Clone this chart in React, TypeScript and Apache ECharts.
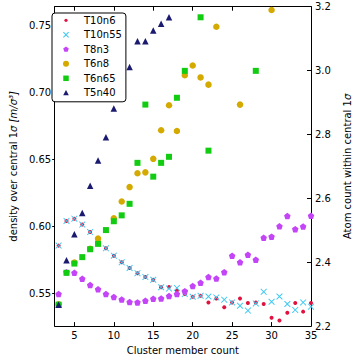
import React, { useEffect, useRef } from 'react';
import * as echarts from 'echarts';

const memberCounts = [3, 4, 5, 6, 7, 8, 9, 10, 11, 12, 13, 14, 15, 16, 17, 18, 19, 20, 21, 22, 23, 24, 25, 26, 27, 28, 29, 30, 31, 32, 33, 34, 35];
const t10n6 = [0.5858, 0.6042, 0.6059, 0.6015, 0.5959, 0.5895, 0.5838, 0.5783, 0.5733, 0.5691, 0.5652, 0.5623, 0.5603, 0.5547, 0.5549, 0.5522, 0.5496, 0.5476, 0.5483, 0.5434, 0.5463, 0.5397, 0.5434, 0.5463, 0.5429, 0.5434, 0.5422, 0.5319, 0.5299, 0.5356, 0.5429, 0.5365, 0.5429];
const t10n55 = [0.5858, 0.6042, 0.6059, 0.6015, 0.5959, 0.5895, 0.5838, 0.5783, 0.5733, 0.5691, 0.5652, 0.5623, 0.5603, 0.5547, 0.5537, 0.5542, 0.5496, 0.5476, 0.5483, 0.5478, 0.5471, 0.5454, 0.5434, 0.5409, 0.5373, 0.5426, 0.5513, 0.5439, 0.5478, 0.5422, 0.5378, 0.5434, 0.5402];
const t8n3 = [0.5496, 0.5660, 0.5655, 0.5610, 0.5564, 0.5532, 0.5496, 0.5474, 0.5456, 0.5437, 0.5434, 0.5446, 0.5461, 0.5463, 0.5481, 0.5496, 0.5518, 0.5557, 0.5581, 0.5623, 0.5613, 0.5660, 0.5783, 0.5733, 0.5790, 0.5753, 0.5917, 0.5925, 0.6003, 0.6079, 0.5981, 0.6000, 0.6081];
const t6n8Counts = [3, 5, 7, 8, 10, 11, 12, 13, 14, 15, 16, 17, 18, 19, 20, 21, 22, 23, 26, 30];
const t6n8 = [0.5420, 0.5732, 0.5835, 0.5910, 0.6062, 0.6187, 0.6295, 0.6398, 0.6405, 0.6506, 0.6719, 0.6906, 0.6714, 0.7131, 0.7203, 0.7114, 0.7060, 0.7492, 0.6911, 0.7617];
const t6n65Counts = [3, 4, 5, 6, 7, 8, 9, 10, 11, 12, 13, 14, 15, 16, 17, 18, 19, 21, 22, 28];
const t6n65 = [0.5417, 0.5655, 0.5724, 0.5772, 0.5831, 0.5871, 0.5974, 0.6040, 0.6084, 0.6170, 0.6476, 0.6911, 0.6373, 0.6476, 0.6521, 0.6962, 0.7163, 0.7563, 0.6567, 0.7163];
const t5n40Counts = [3, 4, 5, 6, 7, 8, 9, 10, 11, 12, 13, 14, 15, 16, 17];
const t5n40 = [0.5417, 0.5748, 0.5942, 0.6101, 0.6305, 0.6493, 0.6668, 0.6881, 0.7030, 0.7192, 0.7384, 0.7384, 0.7465, 0.7514, 0.7563];

const xTicks = [5, 10, 15, 20, 25, 30, 35];
const leftTicks = [0.55, 0.6, 0.65, 0.7, 0.75];
const rightTicks = [2.2, 2.4, 2.6, 2.8, 3.0, 3.2];

const FONT = 'DejaVu Sans';

const crossPath = 'path://M0,1L1,0L5,4L9,0L10,1L6,5L10,9L9,10L5,6L1,10L0,9L4,5Z';
const pentPath = 'path://M5,0L9.76,3.45L7.94,9.05L2.06,9.05L0.24,3.45Z';

const icons = {
  dot: 'path://M0,0M18,10M3.4,5A1.6,1.6 0 1 1 6.6,5A1.6,1.6 0 1 1 3.4,5Z',
  cross: 'path://M0,0M18,10M2,2.7L2.7,2L5,4.3L7.3,2L8,2.7L5.7,5L8,7.3L7.3,8L5,5.7L2.7,8L2,7.3L4.3,5Z',
  pent: 'path://M0,0M18,10M5,2.1L7.76,4.1L6.7,7.35L3.3,7.35L2.24,4.1Z',
  circle: 'path://M0,0M18,10M2,5A3,3 0 1 1 8,5A3,3 0 1 1 2,5Z',
  square: 'path://M0,0M18,10M2.25,2.25L7.75,2.25L7.75,7.75L2.25,7.75Z',
  tri: 'path://M0,0M18,10M5,2.2L7.8,7.5L2.2,7.5Z',
};

function pairs(xs: number[], ys: number[]) {
  return xs.map((x, i) => [x, ys[i]]);
}

export default function App() {
  const ref = useRef<HTMLDivElement>(null);
  useEffect(() => {
    if (!ref.current) return;
    const chart = echarts.init(ref.current, undefined, { renderer: 'svg' });
    const axisLine = { show: true, lineStyle: { color: '#000', width: 1 } };
    const labelStyle = { color: '#000', fontSize: 10, fontFamily: FONT };
    const series: any[] = [
      { name: 'T10n6', data: pairs(memberCounts, t10n6), symbol: 'circle', symbolSize: 4, color: '#e0123f' },
      { name: 'T10n55', data: pairs(memberCounts, t10n55), symbol: crossPath, symbolSize: 6.5, color: '#3cc8f0' },
      { name: 'T8n3', data: pairs(memberCounts, t8n3), symbol: pentPath, symbolSize: 6.5, color: '#c444f8' },
      { name: 'T6n8', data: pairs(t6n8Counts, t6n8), symbol: 'circle', symbolSize: 6.5, color: '#d4aa00' },
      { name: 'T6n65', data: pairs(t6n65Counts, t6n65), symbol: 'rect', symbolSize: 6, color: '#11cc11' },
      { name: 'T5n40', data: pairs(t5n40Counts, t5n40), symbol: 'triangle', symbolSize: 6.5, color: '#1a1a70' },
    ].map((s) => ({
      type: 'scatter',
      name: s.name,
      data: s.data,
      symbol: s.symbol,
      symbolSize: s.symbolSize,
      xAxisIndex: 0,
      yAxisIndex: 0,
      itemStyle: { color: s.color, opacity: 1 },
      emphasis: { disabled: true },
    }));
    const iconList = [icons.dot, icons.cross, icons.pent, icons.circle, icons.square, icons.tri];
    chart.setOption({
      animation: false,
      backgroundColor: '#fff',
      textStyle: { fontFamily: FONT },
      grid: { left: 47, right: 43.3, top: 6.7, bottom: 29.3, containLabel: false },
      legend: {
        orient: 'vertical',
        left: 52,
        top: 13,
        itemWidth: 18,
        itemHeight: 10,
        itemGap: 2.5,
        padding: [1.3, 4, 3, 9],
        borderColor: '#000',
        borderWidth: 1,
        borderRadius: 3,
        backgroundColor: '#fff',
        selectedMode: false,
        textStyle: { color: '#000', fontSize: 10, fontFamily: FONT, lineHeight: 12 },
        data: series.map((s, i) => ({ name: s.name, icon: iconList[i] })),
      },
      xAxis: [
        {
          type: 'value',
          position: 'bottom',
          min: 2.5,
          max: 35,
          axisLine,
          axisTick: { show: true, inside: true, length: 4, customValues: xTicks, lineStyle: { color: '#000' } },
          axisLabel: { ...labelStyle, margin: 4, customValues: xTicks, formatter: (v: number) => String(v) },
          splitLine: { show: false },
          name: 'Cluster member count',
          nameLocation: 'middle',
          nameGap: 15,
          nameTextStyle: { color: '#000', fontSize: 10, fontFamily: FONT },
        },
        {
          type: 'value',
          position: 'top',
          min: 2.5,
          max: 35,
          axisLine,
          axisTick: { show: true, inside: true, length: 4, customValues: xTicks, lineStyle: { color: '#000' } },
          axisLabel: { show: false },
          splitLine: { show: false },
        },
      ],
      yAxis: [
        {
          type: 'value',
          position: 'left',
          min: 0.5257,
          max: 0.7642,
          axisLine,
          axisTick: { show: true, inside: false, length: 2.5, customValues: leftTicks, lineStyle: { color: '#000' } },
          axisLabel: { ...labelStyle, margin: 3.5, customValues: leftTicks, formatter: (v: number) => v.toFixed(2) },
          splitLine: { show: false },
          name: '{n|density over central 1}{i|σ} {i|[m/σ³]}',
          nameLocation: 'middle',
          nameGap: 32,
          nameTextStyle: {
            color: '#000',
            fontSize: 10,
            fontFamily: FONT,
            rich: {
              n: { fontSize: 10, fontFamily: FONT, color: '#000' },
              i: { fontSize: 10, fontFamily: FONT, fontStyle: 'italic', color: '#000' },
            },
          },
        },
        {
          type: 'value',
          position: 'right',
          min: 2.2,
          max: 3.2,
          axisLine,
          axisTick: { show: true, inside: true, length: 4, customValues: rightTicks, lineStyle: { color: '#000' } },
          axisLabel: { ...labelStyle, margin: 4, customValues: rightTicks, formatter: (v: number) => v.toFixed(1) },
          splitLine: { show: false },
          name: '{n|Atom count within central 1}{i|σ}',
          nameLocation: 'middle',
          nameGap: 31,
          nameTextStyle: {
            color: '#000',
            fontSize: 10,
            fontFamily: FONT,
            rich: {
              n: { fontSize: 10, fontFamily: FONT, color: '#000' },
              i: { fontSize: 10, fontFamily: FONT, fontStyle: 'italic', color: '#000' },
            },
          },
        },
      ],
      series,
    });
    return () => chart.dispose();
  }, []);
  return <div ref={ref} style={{ position: 'fixed', left: 0, top: 0, width: 360, height: 360 }} />;
}
